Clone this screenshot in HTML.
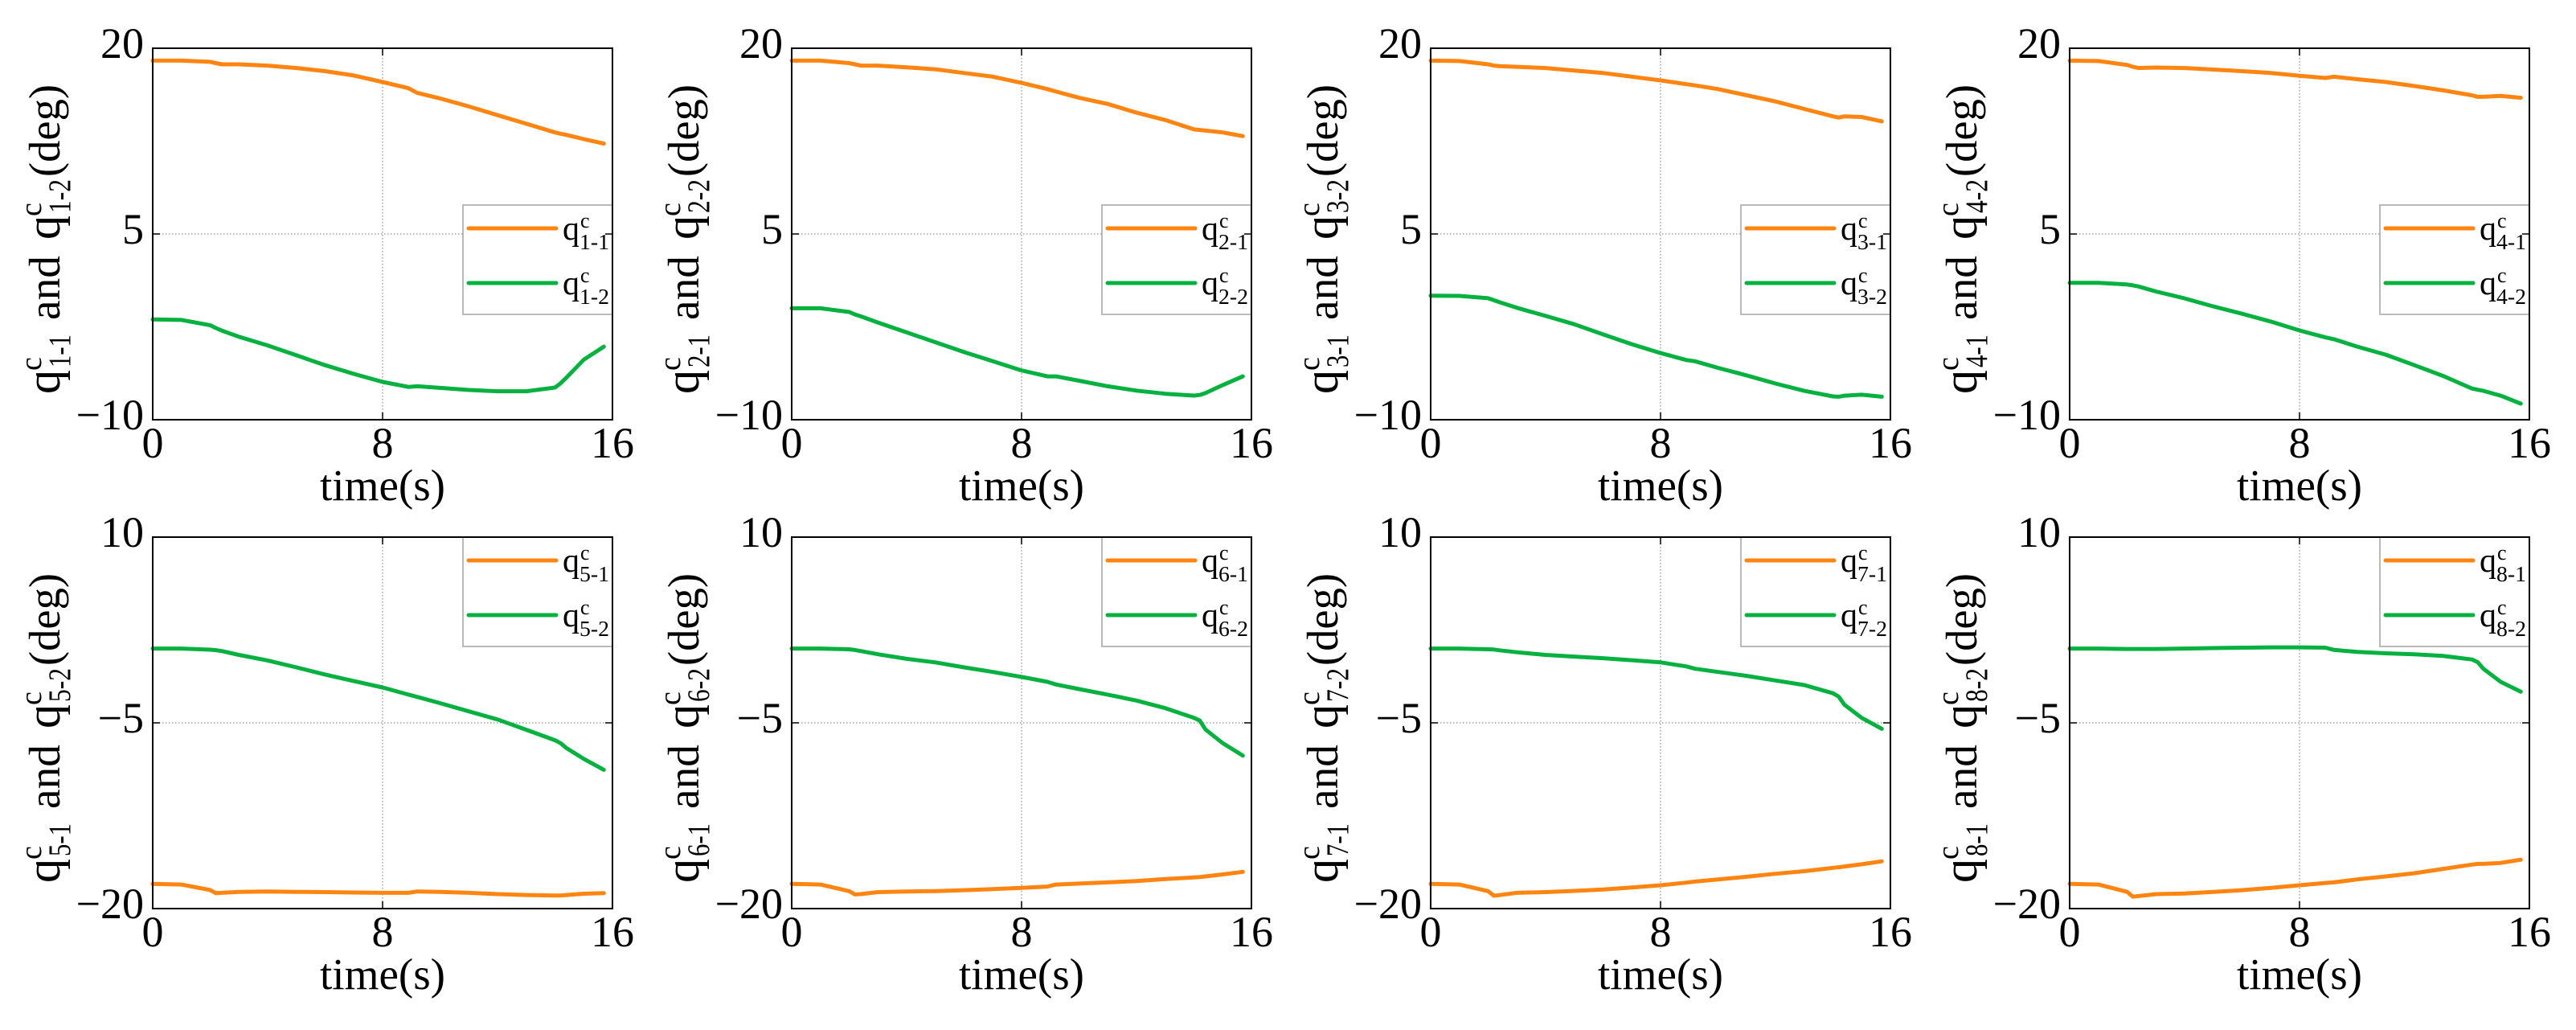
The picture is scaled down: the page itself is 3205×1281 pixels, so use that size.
<!DOCTYPE html>
<html lang="en">
<head>
<meta charset="utf-8">
<title>Joint angle commands q over time</title>
<style>
html,body{margin:0;padding:0;background:#fff;}
svg{display:block;}
text{font-family:"Liberation Serif","DejaVu Serif",serif;fill:#000;}
</style>
</head>
<body>
<svg id="chart" xmlns="http://www.w3.org/2000/svg" width="3205" height="1281" viewBox="0 0 3205 1281">
<rect x="0" y="0" width="3205" height="1281" fill="#ffffff"/>
</svg>
<script>
// ---- data ----
const times = [0,1,2,2.2,2.4,3,4,5,6,7,8,8.9,9.2,10,11,12,13,14,14.2,14.4,15,15.7];

const q1_1 = [19,19,18.9,18.8,18.7,18.7,18.6,18.4,18.15,17.8,17.27,16.77,16.4,15.95,15.3,14.6,13.9,13.2,13.1,13,12.66,12.3];
const q1_2 = [-1.9,-1.94,-2.37,-2.6,-2.8,-3.3,-4,-4.8,-5.6,-6.3,-6.95,-7.35,-7.3,-7.43,-7.6,-7.7,-7.7,-7.4,-7.05,-6.6,-5.15,-4.1];
const q2_1 = [19,19,18.8,18.7,18.6,18.6,18.46,18.3,18,17.7,17.2,16.7,16.5,16,15.5,14.8,14.2,13.45,13.4,13.35,13.2,12.9];
const q2_2 = [-1,-1,-1.3,-1.5,-1.65,-2.15,-2.95,-3.74,-4.54,-5.28,-6.02,-6.5,-6.5,-6.85,-7.3,-7.65,-7.9,-8.05,-8,-7.85,-7.2,-6.5];
const q3_1 = [19,18.97,18.7,18.6,18.55,18.5,18.4,18.2,18,17.7,17.4,17.1,17,16.7,16.2,15.7,15.1,14.5,14.4,14.5,14.45,14.1];
const q3_2 = [0.02,0,-0.19,-0.35,-0.51,-0.96,-1.62,-2.29,-3.11,-3.9,-4.62,-5.18,-5.28,-5.81,-6.42,-7.08,-7.67,-8.12,-8.14,-8.06,-7.98,-8.14];
const q4_1 = [19,18.97,18.65,18.5,18.4,18.44,18.4,18.28,18.15,18,17.77,17.6,17.7,17.5,17.27,16.95,16.6,16.2,16.08,16.08,16.15,16];
const q4_2 = [1.05,1.05,0.92,0.85,0.76,0.36,-0.2,-0.85,-1.44,-2.07,-2.79,-3.35,-3.5,-4.09,-4.75,-5.6,-6.47,-7.48,-7.58,-7.67,-8.06,-8.7];
const q5_1 = [-18,-18.06,-18.5,-18.75,-18.73,-18.65,-18.62,-18.65,-18.67,-18.7,-18.73,-18.73,-18.62,-18.65,-18.73,-18.83,-18.9,-18.94,-18.94,-18.9,-18.8,-18.75];
const q5_2 = [1,1,0.91,0.87,0.8,0.49,0.04,-0.52,-1.1,-1.63,-2.14,-2.72,-2.9,-3.41,-4.07,-4.73,-5.56,-6.4,-6.64,-7.04,-7.91,-8.79];
const q6_1 = [-18,-18.06,-18.59,-18.86,-18.83,-18.67,-18.62,-18.59,-18.51,-18.43,-18.33,-18.22,-18.06,-17.98,-17.88,-17.77,-17.61,-17.48,-17.45,-17.4,-17.24,-17.03];
const q6_2 = [1,1,0.94,0.88,0.8,0.54,0.17,-0.12,-0.52,-0.89,-1.29,-1.69,-1.9,-2.27,-2.72,-3.2,-3.81,-4.6,-4.81,-5.53,-6.64,-7.65];
const q7_1 = [-18,-18.06,-18.59,-18.96,-18.91,-18.73,-18.67,-18.57,-18.46,-18.3,-18.12,-17.9,-17.82,-17.64,-17.43,-17.19,-16.98,-16.71,-16.66,-16.6,-16.42,-16.18];
const q7_2 = [1,1,0.94,0.92,0.86,0.7,0.49,0.35,0.22,0.06,-0.12,-0.44,-0.63,-0.89,-1.21,-1.58,-1.95,-2.61,-2.88,-3.54,-4.6,-5.48];
const q8_1 = [-18,-18.06,-18.65,-19.04,-18.99,-18.83,-18.78,-18.65,-18.51,-18.33,-18.12,-17.93,-17.88,-17.64,-17.4,-17.14,-16.79,-16.45,-16.39,-16.39,-16.31,-16.05];
const q8_2 = [1,1,0.97,0.97,0.97,0.97,1,1.04,1.07,1.1,1.1,1.07,0.89,0.73,0.62,0.54,0.4,0.12,-0.1,-0.63,-1.69,-2.48];

const firstSeries = [q1_1,q2_1,q3_1,q4_1,q5_1,q6_1,q7_1,q8_1];
const secondSeries = [q1_2,q2_2,q3_2,q4_2,q5_2,q6_2,q7_2,q8_2];
const firstLabels = ['1-1','2-1','3-1','4-1','5-1','6-1','7-1','8-1'];
const secondLabels = ['1-2','2-2','3-2','4-2','5-2','6-2','7-2','8-2'];

const xTicks = [0,8,16];
const xTickLabels = ['0','8','16'];
const topYTicks = [-10,5,20];
const topYTickLabels = ['\u221210','5','20'];
const bottomYTicks = [-20,-5,10];
const bottomYTickLabels = ['\u221220','\u22125','10'];

// ---- layout ----
const NS = 'http://www.w3.org/2000/svg';
const svg = document.getElementById('chart');
const PLOT_W = 572, PLOT_H = 462;
const ORANGE = '#ff8410', GREEN = '#06b140';

function make(tag, parent, name) {
  const el = document.createElementNS(NS, tag);
  
  
  parent.appendChild(el);
  return el;
}
function addLine(parent, name, x1, y1, x2, y2, stroke, width, dash) {
  const l = make('line', parent, name);
  l.setAttribute('x1', x1); l.setAttribute('y1', y1);
  l.setAttribute('x2', x2); l.setAttribute('y2', y2);
  l.setAttribute('stroke', stroke); l.setAttribute('stroke-width', width);
  if (dash) l.setAttribute('stroke-dasharray', dash);
  return l;
}
function addText(parent, name, str, x, y, size, anchor, len) {
  const t = make('text', parent, name);
  t.setAttribute('x', x); t.setAttribute('y', y);
  t.setAttribute('font-size', size);
  if (anchor) t.setAttribute('text-anchor', anchor);
  if (len) { t.setAttribute('textLength', len); t.setAttribute('lengthAdjust', 'spacingAndGlyphs'); }
  t.textContent = str;
  return t;
}

function drawPanel(index) {
  const col = index % 4, row = Math.floor(index / 4);
  const left = 190 + col * 795;
  const top = row === 0 ? 60 : 668;
  const right = left + PLOT_W, bottom = top + PLOT_H;
  const yTicks = row === 0 ? topYTicks : bottomYTicks;
  const yTickLabels = row === 0 ? topYTickLabels : bottomYTickLabels;
  const yMin = yTicks[0], yMax = yTicks[yTicks.length - 1];
  const xMin = xTicks[0], xMax = xTicks[xTicks.length - 1];
  const xScale = v => left + (v - xMin) / (xMax - xMin) * PLOT_W;
  const yScale = v => bottom - (v - yMin) / (yMax - yMin) * PLOT_H;
  const n = index + 1;
  const g = make('g', svg, 'panel-' + n);

  // grid lines at interior ticks
  xTicks.slice(1, -1).forEach(v => {
    addLine(g, 'x-gridline', xScale(v), top, xScale(v), bottom, '#8f8f8f', 1.2, '1.5 2.5');
  });
  yTicks.slice(1, -1).forEach(v => {
    addLine(g, 'y-gridline', left, yScale(v), right, yScale(v), '#8f8f8f', 1.2, '1.5 2.5');
  });

  // series
  [[firstSeries[index], ORANGE, 'series-q' + firstLabels[index]],
   [secondSeries[index], GREEN, 'series-q' + secondLabels[index]]].forEach(s => {
    const p = make('polyline', g, s[2]);
    p.setAttribute('points', times.map((t, i) => xScale(t).toFixed(1) + ',' + yScale(s[0][i]).toFixed(1)).join(' '));
    p.setAttribute('fill', 'none');
    p.setAttribute('stroke', s[1]);
    p.setAttribute('stroke-width', '5');
    p.setAttribute('stroke-linejoin', 'round');
    p.setAttribute('stroke-linecap', 'round');
  });

  // legend
  const legendTop = row === 0 ? 255 : 668;
  const legend = make('g', g, 'legend');
  const box = make('rect', legend, 'legend-box');
  box.setAttribute('x', left + 386); box.setAttribute('y', legendTop);
  box.setAttribute('width', PLOT_W - 386); box.setAttribute('height', 136);
  box.setAttribute('fill', '#ffffff'); box.setAttribute('stroke', '#a8a8a8'); box.setAttribute('stroke-width', '1.6');
  [[firstLabels[index], ORANGE, 29], [secondLabels[index], GREEN, 97]].forEach(e => {
    const entry = make('g', legend, 'legend-entry-' + e[0]);
    const y = legendTop + e[2];
    const sw = addLine(entry, 'legend-swatch', left + 393, y, left + 502, y, e[1], 5);
    sw.setAttribute('stroke-linecap', 'round');
    addText(entry, 'legend-q', 'q', left + 510, y + 14, 42);
    addText(entry, 'legend-sup', 'c', left + 532, y - 1, 26);
    addText(entry, 'legend-sub', e[0], left + 531, y + 26, 27, null, 37);
  });

  // frame
  const frame = make('rect', g, 'plot-frame');
  frame.setAttribute('x', left); frame.setAttribute('y', top);
  frame.setAttribute('width', PLOT_W); frame.setAttribute('height', PLOT_H);
  frame.setAttribute('fill', 'none'); frame.setAttribute('stroke', '#000'); frame.setAttribute('stroke-width', '2');

  // ticks and tick labels
  xTicks.forEach((v, i) => {
    if (i > 0 && i < xTicks.length - 1) {
      addLine(g, 'x-tick', xScale(v), bottom, xScale(v), bottom - 9, '#000', 1.5);
      addLine(g, 'x-tick-top', xScale(v), top, xScale(v), top + 9, '#000', 1.5);
    }
    addText(g, 'x-tick-label', xTickLabels[i], xScale(v), bottom + 47, 54, 'middle');
  });
  yTicks.forEach((v, i) => {
    if (i > 0 && i < yTicks.length - 1) {
      addLine(g, 'y-tick', left, yScale(v), left + 9, yScale(v), '#000', 1.5);
      addLine(g, 'y-tick-right', right, yScale(v), right - 9, yScale(v), '#000', 1.5);
    }
    addText(g, 'y-tick-label', yTickLabels[i], left - 11, yScale(v) + 12, 54, 'end');
  });

  // axis titles
  addText(g, 'x-axis-title', 'time(s)', left + PLOT_W / 2, bottom + 100, 55, 'middle', 156);
  const yt = make('g', g, 'y-axis-title');
  yt.setAttribute('transform', 'translate(' + (left - 116) + ',' + (top + 430) + ') rotate(-90)');
  addText(yt, 'y-title-q', 'q', 0, 0, 60);
  addText(yt, 'y-title-sup', 'c', 29, -23, 38);
  addText(yt, 'y-title-sub', firstLabels[index], 33, 13, 39, null, 41);
  addText(yt, 'y-title-and', 'and', 92, 0, 55, null, 80);
  addText(yt, 'y-title-q', 'q', 192, 0, 60);
  addText(yt, 'y-title-sup', 'c', 221, -23, 38);
  addText(yt, 'y-title-sub', secondLabels[index], 225, 13, 39, null, 42);
  addText(yt, 'y-title-unit', '(deg)', 270, 0, 55, null, 115);
}

for (let i = 0; i < 8; i++) drawPanel(i);
</script>
</body>
</html>
